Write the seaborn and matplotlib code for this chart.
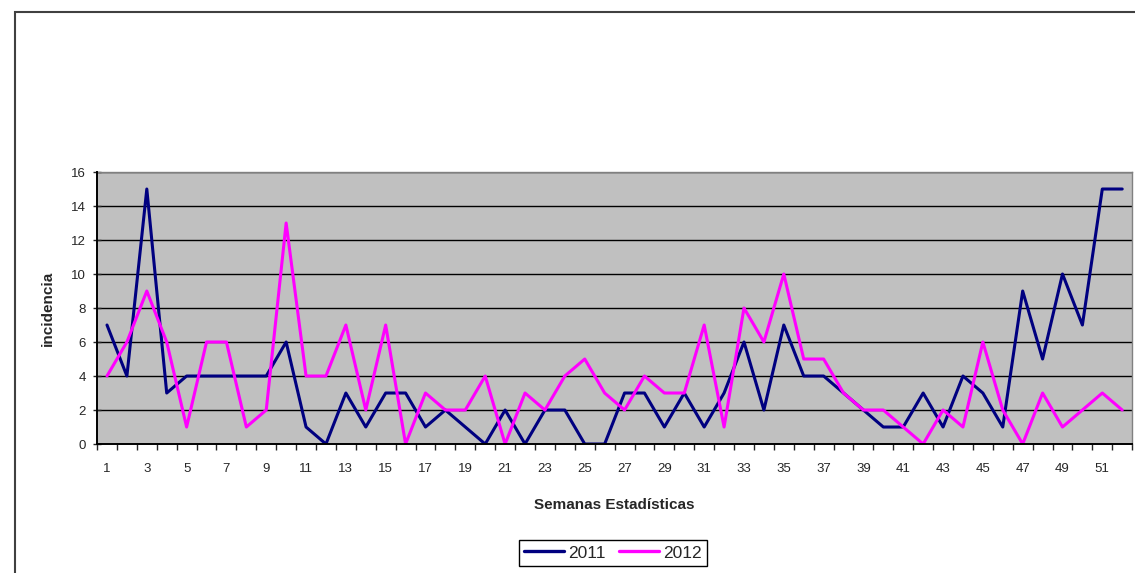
import numpy as np
import pandas as pd
import seaborn as sns
import matplotlib.pyplot as plt
from matplotlib.patches import Rectangle
from matplotlib.ticker import FixedLocator

# semanas estadisticas 1..52
semanas = list(range(1, 53))

casos_2011 = [7, 4, 15, 3, 4, 4, 4, 4, 4, 6,
              1, 0, 3, 1, 3, 3, 1, 2, 1, 0,
              2, 0, 2, 2, 0, 0, 3, 3, 1, 3,
              1, 3, 6, 2, 7, 4, 4, 3, 2, 1,
              1, 3, 1, 4, 3, 1, 9, 5, 10, 7,
              15, 15]

casos_2012 = [4, 6, 9, 6, 1, 6, 6, 1, 2, 13,
              4, 4, 7, 2, 7, 0, 3, 2, 2, 4,
              0, 3, 2, 4, 5, 3, 2, 4, 3, 3,
              7, 1, 8, 6, 10, 5, 5, 3, 2, 2,
              1, 0, 2, 1, 6, 2, 0, 3, 1, 2,
              3, 2]

anios = ['2011', '2012']
colores = {'2011': '#000080', '2012': '#FF00FF'}

df = pd.DataFrame({
    'semana': semanas * 2,
    'incidencia': casos_2011 + casos_2012,
    'anio': ['2011'] * len(semanas) + ['2012'] * len(semanas),
})

sns.set_style('white')
plt.rcParams['font.family'] = ['Liberation Sans', 'DejaVu Sans']

fig = plt.figure(figsize=(11.35, 5.73), dpi=100)
ax = fig.add_axes([0.0855, 0.2251, 0.912, 0.4747])
ax.set_facecolor('#C0C0C0')

sns.lineplot(data=df, x='semana', y='incidencia', hue='anio', hue_order=anios,
             palette=colores, linewidth=2.2, ax=ax, legend=False)

ax.set_xlim(0.5, 52.5)
ax.set_ylim(0, 16)

# grid lines horizontales negras
ax.set_yticks(np.arange(0, 17, 2))
ax.yaxis.grid(True, color='black', linewidth=1.0)
ax.set_axisbelow(True)
ax.tick_params(axis='y', direction='inout', length=6, width=1, labelsize=9.5,
               left=True, pad=5)

# etiquetas en semanas impares, marcas en los limites de categoria
ax.set_xticks(semanas[::2])
ax.set_xticklabels([str(s) for s in semanas[::2]])
ax.xaxis.set_minor_locator(FixedLocator(np.arange(0.5, 53, 1)))
ax.tick_params(axis='x', which='major', length=0, labelsize=9.5, pad=14)
ax.tick_params(axis='x', which='minor', direction='out', length=4, width=1,
               bottom=True)

for lado in ['left', 'bottom']:
    ax.spines[lado].set_color('black')
    ax.spines[lado].set_linewidth(1.4)
    ax.spines[lado].set_zorder(3)
for lado in ['top', 'right']:
    ax.spines[lado].set_color('#808080')
    ax.spines[lado].set_linewidth(1.0)

ax.set_xlabel('Semanas Estadísticas', fontsize=11, fontweight='bold', labelpad=16)
ax.set_ylabel('incidencia', fontsize=11, fontweight='bold', labelpad=12)

# leyenda
handles = [plt.Line2D([], [], color=colores[a], linewidth=2.4) for a in anios]
fig.legend(handles, anios, loc='center', bbox_to_anchor=(0.54, 0.035), ncol=2,
           fontsize=12.5, frameon=True, fancybox=False, edgecolor='black',
           handlelength=2.3, handletextpad=0.2, columnspacing=0.8,
           borderpad=0.3, framealpha=1)

# borde del area del grafico
fig.add_artist(Rectangle((15 / 1135, -0.01), 1.2, 1 - 12 / 573 + 0.01,
                         transform=fig.transFigure, fill=False,
                         edgecolor='#404040', linewidth=1.5))

fig.savefig('out.png', dpi=100)
